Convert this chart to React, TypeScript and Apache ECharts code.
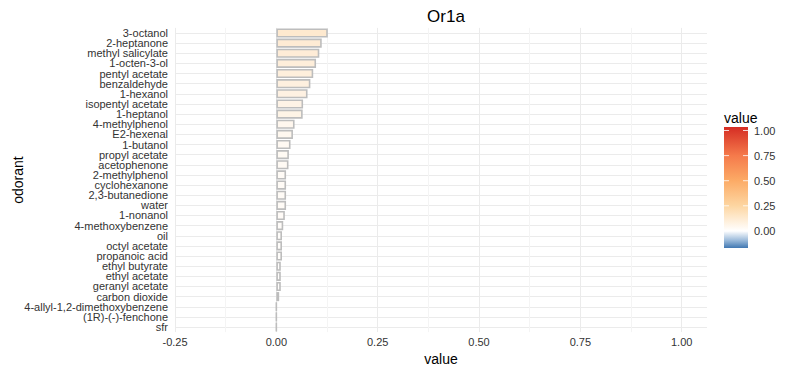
import React, { useEffect, useRef } from "react";
import * as echarts from "echarts";

const categories = [
  "3-octanol", "2-heptanone", "methyl salicylate", "1-octen-3-ol", "pentyl acetate",
  "benzaldehyde", "1-hexanol", "isopentyl acetate", "1-heptanol", "4-methylphenol",
  "E2-hexenal", "1-butanol", "propyl acetate", "acetophenone", "2-methylphenol",
  "cyclohexanone", "2,3-butanedione", "water", "1-nonanol", "4-methoxybenzene",
  "oil", "octyl acetate", "propanoic acid", "ethyl butyrate", "ethyl acetate",
  "geranyl acetate", "carbon dioxide", "4-allyl-1,2-dimethoxybenzene", "(1R)-(-)-fenchone", "sfr",
];
const values = [
  0.127, 0.112, 0.106, 0.098, 0.091,
  0.084, 0.077, 0.066, 0.065, 0.045,
  0.041, 0.035, 0.031, 0.030, 0.024,
  0.024, 0.024, 0.024, 0.021, 0.017,
  0.014, 0.014, 0.014, 0.011, 0.011,
  0.011, 0.007, 0, 0, 0,
];
const legendTicks = [0, 0.25, 0.5, 0.75, 1];
const legendTickLabels = ["0.00", "0.25", "0.50", "0.75", "1.00"];
const legendRange = [-0.17, 1.035];
const colorStops: [number, string][] = [
  [-0.17, "#4178B2"],
  [-0.09, "#9FBDDC"],
  [0, "#FFFFFF"],
  [0.25, "#FDD6A2"],
  [0.5, "#FCAB66"],
  [0.75, "#F57A4B"],
  [1.035, "#D52D24"],
];

const FONT = "'Liberation Sans', Arial, sans-serif";

export default function App() {
  const ref = useRef<HTMLDivElement>(null);
  useEffect(() => {
    if (!ref.current) return;
    const chart = echarts.init(ref.current, null, { renderer: "svg" });

    const lx = 724, ly = 127, lw = 24, lh = 121;
    const [lmin, lmax] = legendRange;
    const yOf = (v: number) => ly + ((lmax - v) / (lmax - lmin)) * lh;
    const gradStops = colorStops
      .map(([v, c]) => ({ offset: (lmax - v) / (lmax - lmin), color: c }))
      .sort((a, b) => a.offset - b.offset);

    const graphics: any[] = [
      {
        type: "text",
        left: lx,
        top: 111,
        style: { text: "value", fontSize: 14, fontFamily: FONT, fill: "#000" },
      },
      {
        type: "rect",
        shape: { x: lx, y: ly, width: lw, height: lh },
        style: {
          fill: new echarts.graphic.LinearGradient(0, 0, 0, 1, gradStops),
        },
      },
    ];
    legendTicks.forEach((v, i) => {
      const y = yOf(v);
      graphics.push({
        type: "line",
        shape: { x1: lx, y1: y, x2: lx + 5, y2: y },
        style: { stroke: "rgba(255,255,255,0.8)", lineWidth: 1 },
      });
      graphics.push({
        type: "line",
        shape: { x1: lx + lw - 5, y1: y, x2: lx + lw, y2: y },
        style: { stroke: "rgba(255,255,255,0.8)", lineWidth: 1 },
      });
      graphics.push({
        type: "text",
        x: lx + lw + 6,
        y,
        style: {
          text: legendTickLabels[i],
          fontSize: 11,
          fontFamily: FONT,
          fill: "#333",
          verticalAlign: "middle",
        },
      });
    });

    const option: any = {
      animation: false,
      backgroundColor: "#fff",
      textStyle: { fontFamily: FONT },
      title: {
        text: "Or1a",
        left: 441,
        top: 3,
        textAlign: "center",
        textStyle: { fontSize: 17, fontWeight: "normal", color: "#000", fontFamily: FONT },
      },
      grid: {
        left: 175, right: 93, top: 27.9, bottom: 37.9,
        containLabel: false,
        outerBoundsMode: "none",
      },
      visualMap: {
        show: false,
        type: "continuous",
        dimension: 0,
        min: 0,
        max: 1,
        inRange: { color: ["#FFFFFF", "#FDD3A0", "#FCAB66", "#F57A4B", "#DA3A29"] },
      },
      xAxis: {
        type: "value",
        min: -0.25,
        max: 1.0625,
        interval: 0.25,
        name: "value",
        nameLocation: "middle",
        nameGap: 16,
        nameTextStyle: { fontSize: 14, color: "#000", fontFamily: FONT },
        axisLine: { show: false },
        axisTick: { show: false },
        axisLabel: {
          fontSize: 11,
          color: "#333",
          margin: 4,
          showMaxLabel: false,
          formatter: (v: number) => v.toFixed(2),
        },
        splitLine: { show: true, showMaxLine: false, lineStyle: { color: "#EBEBEB", width: 1 } },
        minorTick: { show: false, splitNumber: 2 },
        minorSplitLine: { show: true, lineStyle: { color: "#F4F4F4", width: 1 } },
      },
      yAxis: {
        type: "category",
        inverse: true,
        data: categories,
        name: "odorant",
        nameLocation: "middle",
        nameGap: 150,
        nameRotate: 90,
        nameMoveOverlap: false,
        nameTextStyle: { fontSize: 14, color: "#000", fontFamily: FONT },
        axisLine: { show: false },
        axisTick: { show: false },
        axisLabel: { fontSize: 11, color: "#333", margin: 7, interval: 0 },
        splitLine: { show: true, alignWithLabel: true, lineStyle: { color: "#EBEBEB", width: 1 } },
      },
      series: [
        {
          type: "bar",
          data: categories.map((c, i) => [values[i], c]),
          encode: { x: 0, y: 1 },
          barCategoryGap: "10%",
          itemStyle: { borderColor: "#BDBDBD", borderWidth: 1.6 },
          silent: true,
        },
      ],
      graphic: graphics,
    };
    chart.setOption(option);
    return () => chart.dispose();
  }, []);
  return (
    <div
      ref={ref}
      style={{ position: "fixed", left: 0, top: 0, width: 800, height: 370 }}
    />
  );
}
